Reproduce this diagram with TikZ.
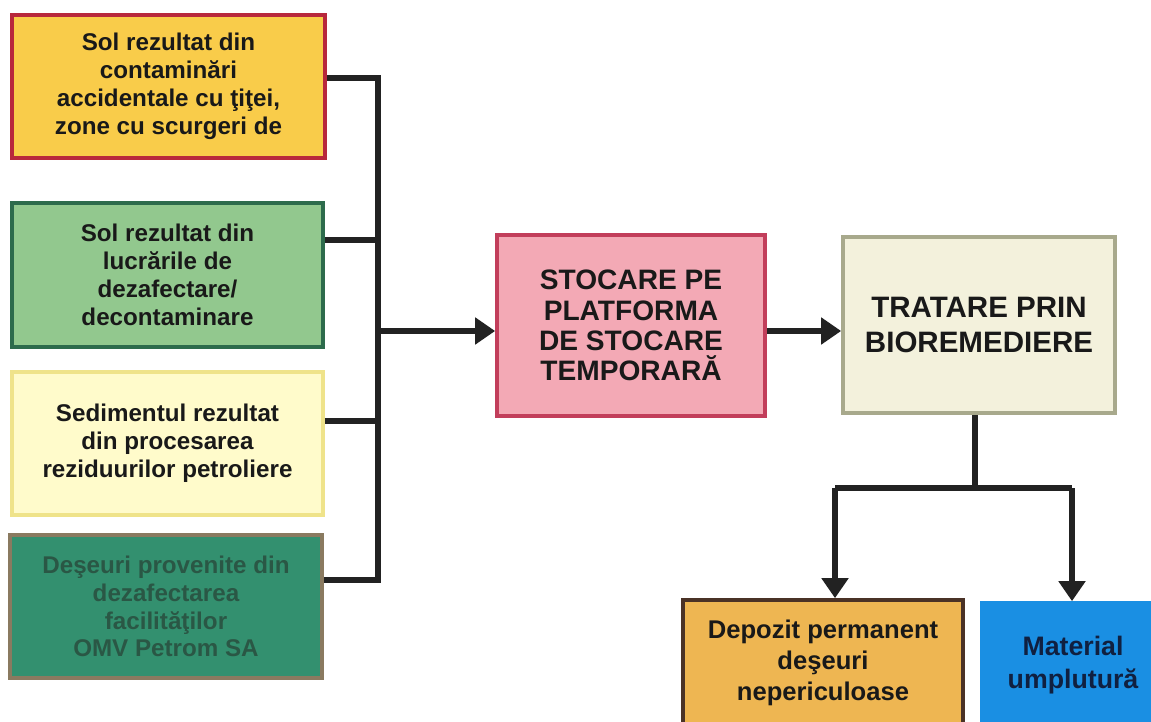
\documentclass[tikz,border=0pt]{standalone}
\usepackage{fontspec}
\setmainfont{Liberation Sans}
\usetikzlibrary{arrows.meta}
\definecolor{f1}{HTML}{F9CC4A}\definecolor{d1}{HTML}{B8283C}
\definecolor{f2}{HTML}{92C88E}\definecolor{d2}{HTML}{2D6B4C}
\definecolor{f3}{HTML}{FFFBCB}\definecolor{d3}{HTML}{EFE38A}
\definecolor{f4}{HTML}{33906F}\definecolor{d4}{HTML}{8A7A60}\definecolor{t4}{HTML}{2A5745}
\definecolor{fs}{HTML}{F3A9B5}\definecolor{ds}{HTML}{C23E5B}
\definecolor{fb}{HTML}{F3F1DC}\definecolor{db}{HTML}{A8A98C}
\definecolor{fd}{HTML}{EEB652}\definecolor{dd}{HTML}{4A3226}
\definecolor{fm}{HTML}{1A8FE3}\definecolor{tm}{HTML}{102040}
\definecolor{ln}{HTML}{222222}
\tikzset{
  box/.style={rectangle, line width=2.6pt, align=center, inner sep=0pt, font=\bfseries, text=black!90},
  lefttxt/.style={font=\bfseries\fontsize{17.2}{19.8}\selectfont},
  conn/.style={draw=ln, line width=4pt, line join=miter},
  arr/.style={conn, -{Triangle[width=0.65cm,length=0.5cm]}}
}
\begin{document}
\begin{tikzpicture}[x=0.025cm,y=-0.025cm]
\clip (0,0) rectangle (1151,722);
\fill[white] (0,0) rectangle (1151,722);
% left column
\node[box, lefttxt, fill=f1, draw=d1, minimum width=7.825cm, minimum height=3.575cm] (b1) at (168.5,86.5)
  {Sol rezultat din\\contaminări\\accidentale cu ţiţei,\\zone cu scurgeri de};
\node[box, lefttxt, fill=f2, draw=d2, minimum width=7.775cm, minimum height=3.6cm] (b2) at (167.5,275)
  {Sol rezultat din\\lucrările de\\dezafectare/\\decontaminare};
\node[box, lefttxt, fill=f3, draw=d3, minimum width=7.775cm, minimum height=3.575cm] (b3) at (167.5,443.5)
  {Sedimentul rezultat\\din procesarea\\reziduurilor petroliere};
\node[box, lefttxt, fill=f4, draw=d4, text=t4, minimum width=7.8cm, minimum height=3.575cm] (b4) at (166,606.5)
  {Deşeuri provenite din\\dezafectarea\\facilităţilor\\OMV Petrom SA};
% middle
\node[box, fill=fs, draw=ds, font=\bfseries\fontsize{20}{21.5}\selectfont, minimum width=6.7cm, minimum height=4.525cm] (store) at (631,325.5)
  {STOCARE PE\\PLATFORMA\\DE STOCARE\\TEMPORARĂ};
\node[box, fill=fb, draw=db, font=\bfseries\fontsize{21}{25}\selectfont, minimum width=6.8cm, minimum height=4.4cm] (bio) at (979,325)
  {TRATARE PRIN\\BIOREMEDIERE};
% bottom
\node[box, fill=fd, draw=dd, font=\bfseries\fontsize{18.2}{21.8}\selectfont, minimum width=7cm, minimum height=3.15cm] (dep) at (823,663)
  {Depozit permanent\\deşeuri\\nepericuloase};
\node[box, fill=fm, draw=fm, text=tm, font=\bfseries\fontsize{19}{24}\selectfont, minimum width=4.55cm, minimum height=3.1cm] (mat) at (1073,665)
  {Material\\umplutură};
% connectors
\coordinate (j1) at (378,78);
\coordinate (j2) at (378,240);
\coordinate (jm) at (378,331);
\coordinate (j3) at (378,421);
\coordinate (j4) at (378,580);
\draw[conn] (b1.east |- j1) -- (j1) -- (j4) -- (b4.east |- j4);
\draw[conn] (b2.east |- j2) -- (j2);
\draw[conn] (b3.east |- j3) -- (j3);
\draw[arr] (jm) -- (store.west |- jm);
\draw[arr] (store.east |- jm) -- (bio.west |- jm);
\coordinate (sp) at (975,488);
\coordinate (ld) at (835,488);
\coordinate (rd) at (1072,488);
\draw[conn] (bio.south -| sp) -- (sp);
\draw[conn] (ld) -- (rd);
\draw[arr] (ld) -- (dep.north -| ld);
\draw[arr] (rd) -- (mat.north -| rd);
\end{tikzpicture}
\end{document}
